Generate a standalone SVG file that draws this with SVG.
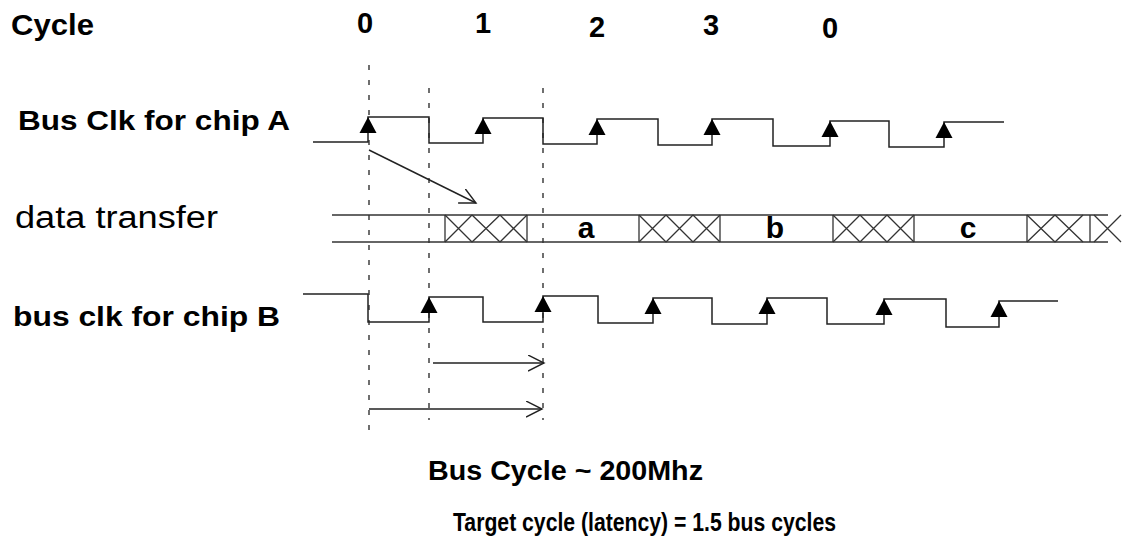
<svg xmlns="http://www.w3.org/2000/svg" width="1124" height="537" viewBox="0 0 1124 537">
<style>
.t{font-family:"Liberation Sans",Arial,sans-serif;fill:#000}
.b{font-weight:bold}
.w{fill:none;stroke:#222;stroke-width:1.5}
.d{fill:none;stroke:#222;stroke-width:1.3;stroke-dasharray:5 10}
.x{fill:none;stroke:#333;stroke-width:1.3}
.a{fill:none;stroke:#222;stroke-width:1.4}
</style>
<defs>
<path id="tri" d="M0,0 L-8.5,16 L8.5,16 Z" fill="#000"/>
<marker id="open" markerWidth="20" markerHeight="20" refX="16" refY="8" orient="auto" markerUnits="userSpaceOnUse">
<path d="M0,0 L16,8 L0,16" fill="none" stroke="#222" stroke-width="1.4"/>
</marker>
</defs>

<g id="labels">
<text class="t b" x="11" y="35" font-size="29" textLength="83" lengthAdjust="spacingAndGlyphs">Cycle</text>
<text class="t b" x="365" y="33" font-size="29" text-anchor="middle">0</text>
<text class="t b" x="483" y="33" font-size="29" text-anchor="middle">1</text>
<text class="t b" x="597" y="37" font-size="29" text-anchor="middle">2</text>
<text class="t b" x="711" y="35" font-size="29" text-anchor="middle">3</text>
<text class="t b" x="830" y="38" font-size="29" text-anchor="middle">0</text>
<text class="t b" x="18" y="130" font-size="27" textLength="272" lengthAdjust="spacingAndGlyphs">Bus Clk for chip A</text>
<text class="t" x="15" y="228" font-size="31" textLength="203" lengthAdjust="spacingAndGlyphs">data transfer</text>
<text class="t b" x="13" y="326" font-size="27" textLength="267" lengthAdjust="spacingAndGlyphs">bus clk for chip B</text>
<text class="t b" x="428" y="480" font-size="27" textLength="275" lengthAdjust="spacingAndGlyphs">Bus Cycle ~ 200Mhz</text>
<text class="t b" x="453" y="531" font-size="25" textLength="383" lengthAdjust="spacingAndGlyphs">Target cycle (latency) = 1.5 bus cycles</text>
</g>

<g id="guides">
<line class="d" x1="369" y1="65" x2="369" y2="430"/>
<line class="d" x1="429" y1="88" x2="429" y2="420"/>
<line class="d" x1="543" y1="88" x2="543" y2="420"/>
</g>

<g id="clkA">
<path class="w" d="M313,142 L368,142 L368,117 L429,117 L429,143 L483,143 L483,118 L543,118 L543,144 L597,144 L597,119 L658,119 L658,145 L712,145 L712,119 L773,119 L773,146 L830,146 L830,121 L889,121 L889,147 L944,147 L944,122 L1004,122"/>
<use href="#tri" x="368" y="117"/>
<use href="#tri" x="483" y="118"/>
<use href="#tri" x="597" y="119"/>
<use href="#tri" x="712" y="119"/>
<use href="#tri" x="830" y="121"/>
<use href="#tri" x="944" y="122"/>
</g>

<g id="bus">
<line class="x" x1="332" y1="215" x2="1108" y2="215"/>
<line class="x" x1="332" y1="242" x2="1108" y2="242"/>
<path class="x" d="M445,215 V242 M527,215 V242 M639,215 V242 M720,215 V242 M833,215 V242 M914,215 V242 M1027,215 V242 M1090,215 V242"/>
<path class="x" d="M445,215 L472,242 M472,215 L445,242 M472,215 L500,242 M500,215 L472,242 M500,215 L527,242 M527,215 L500,242"/>
<path class="x" d="M639,215 L666,242 M666,215 L639,242 M666,215 L693,242 M693,215 L666,242 M693,215 L720,242 M720,215 L693,242"/>
<path class="x" d="M833,215 L860,242 M860,215 L833,242 M860,215 L887,242 M887,215 L860,242 M887,215 L914,242 M914,215 L887,242"/>
<path class="x" d="M1027,215 L1055,242 M1055,215 L1027,242 M1055,215 L1083,242 M1083,215 L1055,242"/>
<path class="x" d="M1094,215 L1121,242 M1094,242 L1121,215"/>
<text class="t b" x="586" y="238" font-size="30" text-anchor="middle">a</text>
<text class="t b" x="775" y="238" font-size="30" text-anchor="middle">b</text>
<text class="t b" x="968" y="238" font-size="30" text-anchor="middle">c</text>
</g>

<g id="clkB">
<path class="w" d="M303,294 L368,294 L368,322 L429,322 L429,297 L483,297 L483,322 L543,322 L543,296 L598,296 L598,323 L653,323 L653,298 L712,298 L712,324 L767,324 L767,298 L827,298 L827,324 L884,324 L884,299 L946,299 L946,327 L999,327 L999,301 L1058,301"/>
<use href="#tri" x="429" y="297"/>
<use href="#tri" x="543" y="296"/>
<use href="#tri" x="653" y="298"/>
<use href="#tri" x="767" y="298"/>
<use href="#tri" x="884" y="299"/>
<use href="#tri" x="999" y="301"/>
</g>

<g id="connectors">
<line class="a" x1="369" y1="150" x2="476" y2="203" marker-end="url(#open)"/>
<line class="a" x1="433" y1="363" x2="544" y2="363" marker-end="url(#open)"/>
<line class="a" x1="369" y1="409" x2="542" y2="409" marker-end="url(#open)"/>
</g>
</svg>
